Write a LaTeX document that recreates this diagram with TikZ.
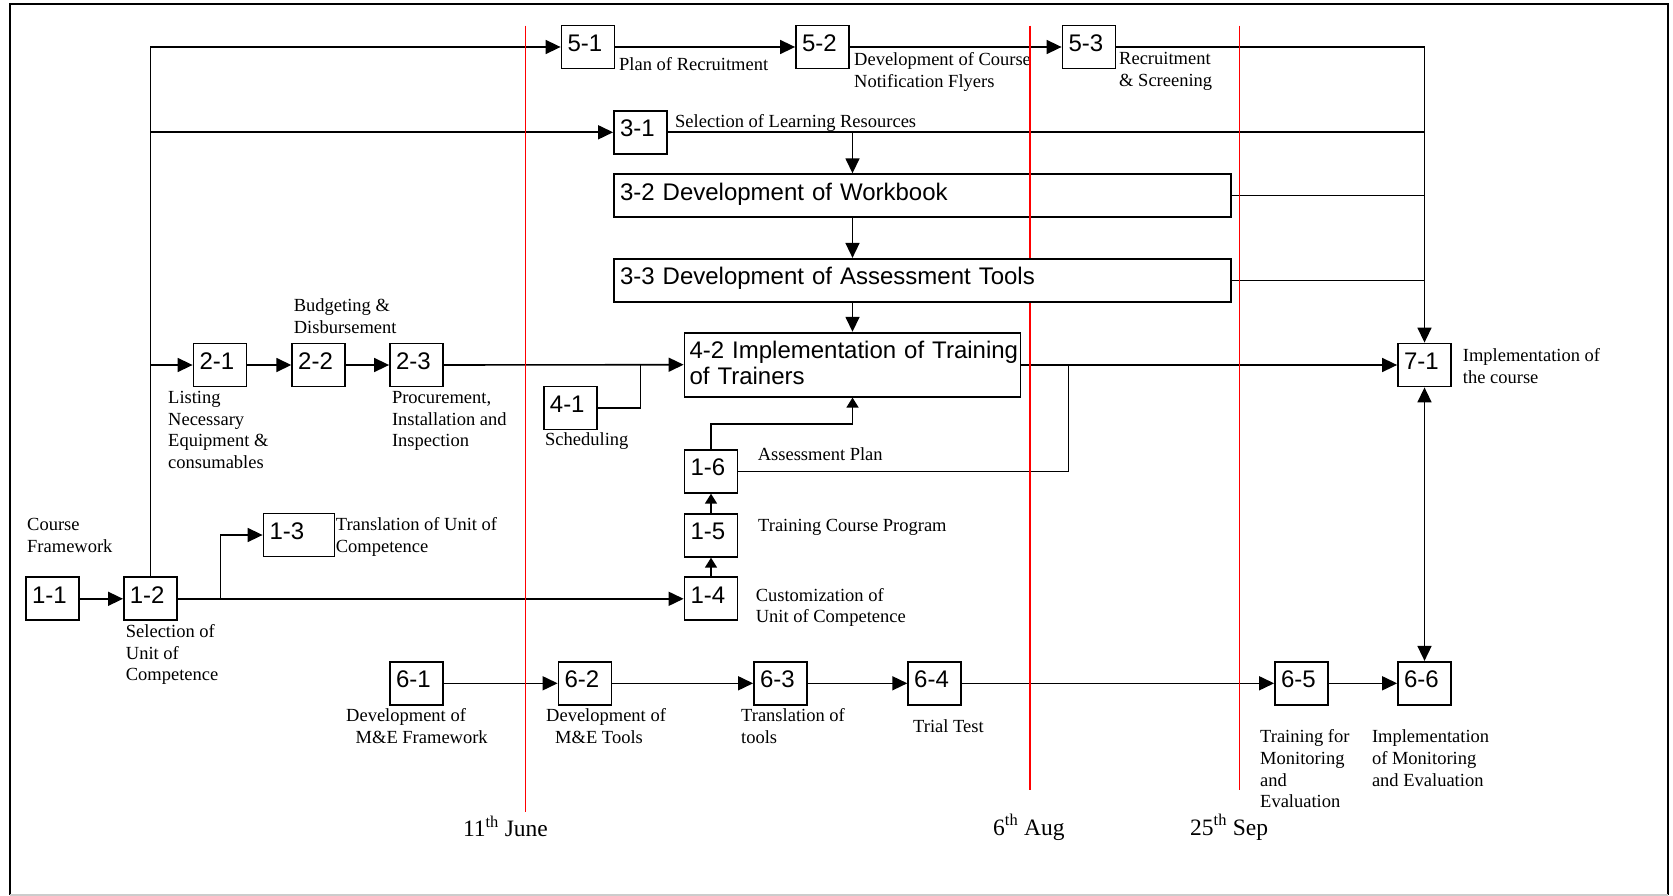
\documentclass[tikz,border=0pt]{standalone}
\usepackage{fontspec}
\setmainfont{Liberation Serif}
\newfontfamily\arialf{Liberation Sans}
\usetikzlibrary{arrows.meta}
\pgfdeclarelayer{redl}
\pgfdeclarelayer{front}
\pgfsetlayers{main,redl,front}
\newcommand{\mlines}[1]{\begin{tabular}[t]{@{}l@{}}#1\end{tabular}}
\tikzset{
  box/.style={draw, line width=1.8pt, fill=white, minimum height=43pt,
    inner xsep=6pt, inner ysep=0pt, font=\arialf\fontsize{24}{26}\selectfont,
    text height=17.5pt, text depth=8.5pt, align=left, text width=#1},
  box/.default=41pt,
  lab/.style={anchor=base west, inner sep=0pt, font=\fontsize{18.5}{21.7}\selectfont},
  datelab/.style={anchor=base west, inner sep=0pt, font=\fontsize{23.5}{26}\selectfont},
  conn/.style={line width=1.6pt},
  arr/.style={conn, -{Triangle[length=15pt,width=14pt]}},
  sarr/.style={conn, -{Triangle[length=10pt,width=12pt]}},
  darr/.style={conn, {Triangle[length=15pt,width=14pt]}-{Triangle[length=15pt,width=14pt]}},
  redline/.style={red, line width=1.5pt},
}
\begin{document}
\begin{tikzpicture}[x=1pt,y=-1pt]
\useasboundingbox (0,0) rectangle (1673,896);
% frame
\draw[line width=2pt] (10,895) -- (10,4) -- (1668,4) -- (1668,895);
\draw[line width=2pt, black!20] (10,895) -- (1668,895);

% boxes
\node[box] (b51) at (588,47) {5-1};
\node[box] (b52) at (822.5,47) {5-2};
\node[box] (b53) at (1089,47) {5-3};
\node[box] (b31) at (640.5,132.3) {3-1};
\node[box=605pt, fill=none] (b32) at (922.5,195.7) {3-2 Development of Workbook};
\begin{pgfonlayer}{front}
\node[box=605pt] (b33) at (922.5,280.3) {3-3 Development of Assessment Tools};
\end{pgfonlayer}
\node[box=326pt, inner xsep=5pt, minimum height=64pt, text height=17.5pt, text depth=30.3pt] (b42) at (852.5,364.7) {\mbox{4-2 Implementation of Training}\\of Trainers};
\node[box] (b21) at (220,365) {2-1};
\node[box] (b22) at (318.7,365) {2-2};
\node[box] (b23) at (416.5,365) {2-3};
\node[box] (b41) at (570.4,407.9) {4-1};
\node[box] (b16) at (711,471.3) {1-6};
\node[box] (b15) at (711,535.3) {1-5};
\node[box] (b14) at (711,598.8) {1-4};
\node[box] (b11) at (52.5,598.8) {1-1};
\node[box] (b12) at (150.4,598.8) {1-2};
\node[box=59pt] (b13) at (299,535) {1-3};
\node[box] (b61) at (416.5,683.3) {6-1};
\node[box] (b62) at (585,683.3) {6-2};
\node[box] (b63) at (780.5,683.3) {6-3};
\node[box] (b64) at (934.7,683.3) {6-4};
\node[box] (b65) at (1301.5,683.3) {6-5};
\node[box] (b66) at (1424.5,683.3) {6-6};
\node[box] (b71) at (1424.5,365) {7-1};

% labels
\node[lab] (l51) at (619,70.7) {Plan of Recruitment};
\node[lab] (l52) at (854,66) {\mlines{Development of Course\\Notification Flyers}};
\node[lab] (l53) at (1119,65) {\mlines{Recruitment\\\& Screening}};
\node[lab] (l31) at (675,128) {Selection of Learning Resources};
\node[lab] (l22) at (293.6,311.7) {\mlines{Budgeting \&\\Disbursement}};
\node[lab] (l21) at (168,403.3) {\mlines{Listing\\Necessary\\Equipment \&\\consumables}};
\node[lab] (l23) at (391.8,403.3) {\mlines{Procurement,\\Installation and\\Inspection}};
\node[lab] (l41) at (545,445.7) {Scheduling};
\node[lab] (l16) at (757.6,460) {Assessment Plan};
\node[lab] (l15) at (758,531.7) {Training Course Program};
\node[lab] (l14) at (755.6,601) {\mlines{Customization of\\Unit of Competence}};
\node[lab] (l11) at (27,530.7) {\mlines{Course\\Framework}};
\node[lab] (l13) at (335.7,530.7) {\mlines{Translation of Unit of\\Competence}};
\node[lab] (l12) at (125.7,637.3) {\mlines{Selection of\\Unit of\\Competence}};
\node[lab] (l71) at (1462.7,361.7) {\mlines{Implementation of\\the course}};
\node[lab] (l61) at (346,721.7) {\mlines{Development of\\\hspace{9.5pt}M\&E Framework}};
\node[lab] (l62) at (546,721.7) {\mlines{Development of\\\hspace{9pt}M\&E Tools}};
\node[lab] (l63) at (741,721.7) {\mlines{Translation of\\tools}};
\node[lab] (l64) at (913,732.7) {Trial Test};
\node[lab] (l65) at (1260,742.7) {\mlines{Training for\\Monitoring\\and\\Evaluation}};
\node[lab] (l66) at (1371.8,742.7) {\mlines{Implementation\\of Monitoring\\and Evaluation}};
\node[datelab] (d1) at (462.8,836.7) {11\textsuperscript{th} June};
\node[datelab] (d2) at (993,835) {6\textsuperscript{th} Aug};
\node[datelab] (d3) at (1190,835) {25\textsuperscript{th} Sep};

% junction coordinates
\coordinate (d31) at (852.5,132.3);
\coordinate (j41) at (640.4,365);
\coordinate (j16) at (1068.3,365);
\coordinate (k16) at (852.5,424);
\coordinate (j13) at (220.4,598.8);

% connectors
\draw[arr] (b11.east) -- (b12.west);
\draw[arr] (b12.north) |- (b51.west);
\draw[arr] (b12.north) |- (b31.west);
\draw[arr] (b12.north) |- (b21.west);
\draw[arr] (b21.east) -- (b22.west);
\draw[arr] (b22.east) -- (b23.west);
\draw[arr] (b23.east) -- (b42.west);
\draw[conn] (b41.east) -| (j41);
\draw[arr] (b51.east) -- (b52.west);
\draw[arr] (b52.east) -- (b53.west);
\draw[arr] (b53.east) -| (b71.north);
\draw[conn] (b31.east) -- (b31.east -| b71.north);
\draw[conn] (b32.east) -- (b32.east -| b71.north);
\draw[conn] (b33.east) -- (b33.east -| b71.north);
\draw[arr] (d31) -- (d31 |- b32.north);
\draw[arr] (d31 |- b32.south) -- (d31 |- b33.north);
\draw[arr] (d31 |- b33.south) -- (b42.north);
\draw[arr] (b42.east |- b71.west) -- (b71.west);
\draw[conn] (b16.east) -| (j16);
\draw[sarr] (b16.north) |- (k16) -- (b42.south);
\draw[sarr] (b15.north) -- (b16.south);
\draw[sarr] (b14.north) -- (b15.south);
\draw[arr] (b12.east) -- (b14.west);
\draw[arr] (j13) |- (b13.west);
\draw[arr] (b61.east) -- (b62.west);
\draw[arr] (b62.east) -- (b63.west);
\draw[arr] (b63.east) -- (b64.west);
\draw[arr] (b64.east) -- (b65.west);
\draw[arr] (b65.east) -- (b66.west);
\draw[darr] (b71.south) -- (b66.north);

% red date lines
\begin{pgfonlayer}{redl}
\draw[redline] (525.5,25.7) -- (525.5,811.7);
\draw[redline] (1030,25.7) -- (1030,790);
\draw[redline] (1239.5,25.7) -- (1239.5,790);
\end{pgfonlayer}
\end{tikzpicture}
\end{document}
